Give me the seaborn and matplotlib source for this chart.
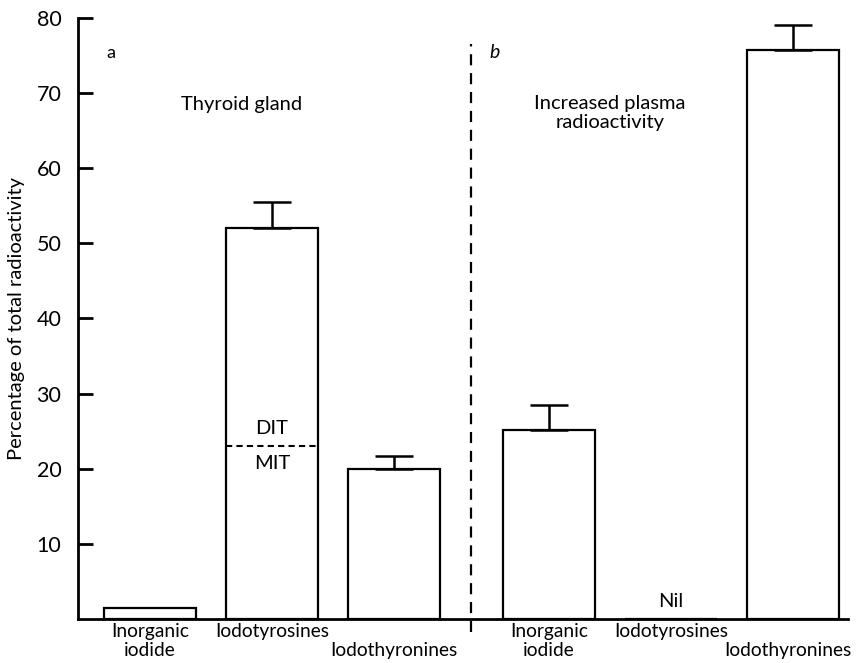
import numpy as np
import pandas as pd
import matplotlib
matplotlib.use("Agg")
import matplotlib.pyplot as plt
import matplotlib.transforms as mtransforms
import seaborn as sns

# Percentage of total radioactivity per fraction
categories = ["Inorganic\niodide", "Iodotyrosines", "Iodothyronines"]
thyroid_values = [1.5, 52.0, 20.0]
thyroid_errors = [np.nan, 3.5, 1.7]
plasma_values = [25.2, 0.0, 75.8]
plasma_errors = [3.3, np.nan, 3.2]
mit_dit_split = 23.0
yticks = [10, 20, 30, 40, 50, 60, 70, 80]

sns.set_style("ticks")
plt.rcParams["font.family"] = ["Lato", "DejaVu Sans"]
plt.rcParams["text.color"] = "black"
plt.rcParams["axes.edgecolor"] = "black"
plt.rcParams["xtick.color"] = "black"
plt.rcParams["ytick.color"] = "black"
plt.rcParams["axes.labelcolor"] = "black"

# panel b sits a little further to the right than a plain continuation
group_offset = 3.27
pos_a = np.arange(len(categories), dtype=float)
pos_b = pos_a + group_offset
positions = np.concatenate([pos_a, pos_b])

df = pd.DataFrame({
    "pos": positions,
    "value": thyroid_values + plasma_values,
})
errors = np.array(thyroid_errors + plasma_errors)

fig = plt.figure(figsize=(8.58, 6.63), dpi=100)
ax = fig.add_axes([0.0909, 0.0664, 0.8973, 0.9065])

sns.barplot(data=df, x="pos", y="value", native_scale=True, width=0.76,
            color="white", edgecolor="black", linewidth=1.6, errorbar=None,
            saturation=1, ax=ax)

# upward-only error bars with caps
ok = ~np.isnan(errors)
ax.errorbar(positions[ok], df["value"].values[ok],
            yerr=[np.zeros(ok.sum()), errors[ok]], fmt="none",
            ecolor="black", elinewidth=1.8, capsize=14, capthick=1.8)

ax.set_xlim(-0.59, 5.72)
ax.set_ylim(0, 80)

# DIT / MIT boundary inside the thyroid iodotyrosine bar
half = 0.76 * 0.99 / 2
ax.plot([pos_a[1] - half, pos_a[1] + half], [mit_dit_split, mit_dit_split],
        color="black", lw=1.5, ls=(0, (3, 2)))
ax.text(pos_a[1], mit_dit_split + 1.2, "DIT", ha="center", va="bottom", fontsize=14.5)
ax.text(pos_a[1], mit_dit_split - 1.2, "MIT", ha="center", va="top", fontsize=14.5)

# panel divider
divider_x = (pos_a[-1] + pos_b[0]) / 2
ax.plot([divider_x, divider_x], [-1.7, 76.5], color="black", lw=1.6,
        ls=(0, (5, 3.5)), clip_on=False)

ax.text(pos_b[1], 1.2, "Nil", ha="center", va="bottom", fontsize=14.5)

ax.text(-0.32, 75.3, "a", ha="center", va="center", fontsize=13)
ax.text(pos_a[1] - 0.25, 68.5, "Thyroid gland", ha="center", va="center", fontsize=14.5)
ax.text(divider_x + 0.19, 75.4, "b", ha="center", va="center", fontsize=14, style="italic")
ax.text(pos_b[0] + 0.5, 67.4, "Increased plasma\nradioactivity", ha="center",
        va="center", fontsize=14.5, linespacing=1.15)

ax.set_yticks(yticks)
ax.set_yticklabels([str(t) for t in yticks], fontsize=15.5)
ax.tick_params(axis="y", direction="in", length=11, width=2, pad=12)

labels = [c if i < 2 else "\n" + c for i, c in enumerate(categories)] * 2
ax.set_xticks(positions)
ax.set_xticklabels(labels, fontsize=13.8, linespacing=1.15)
ax.tick_params(axis="x", length=0, pad=3)
# nudge the last staggered label slightly left so it stays on the canvas
last = ax.get_xticklabels()[-1]
last.set_transform(last.get_transform()
                   + mtransforms.ScaledTranslation(-4 / 72, 0, fig.dpi_scale_trans))

ax.set_xlabel("")
ax.set_ylabel("Percentage of total radioactivity", fontsize=14.5, labelpad=8)

for side in ["top", "right"]:
    ax.spines[side].set_visible(False)
for side in ["left", "bottom"]:
    ax.spines[side].set_linewidth(2)

fig.savefig("out.png", dpi=100)
